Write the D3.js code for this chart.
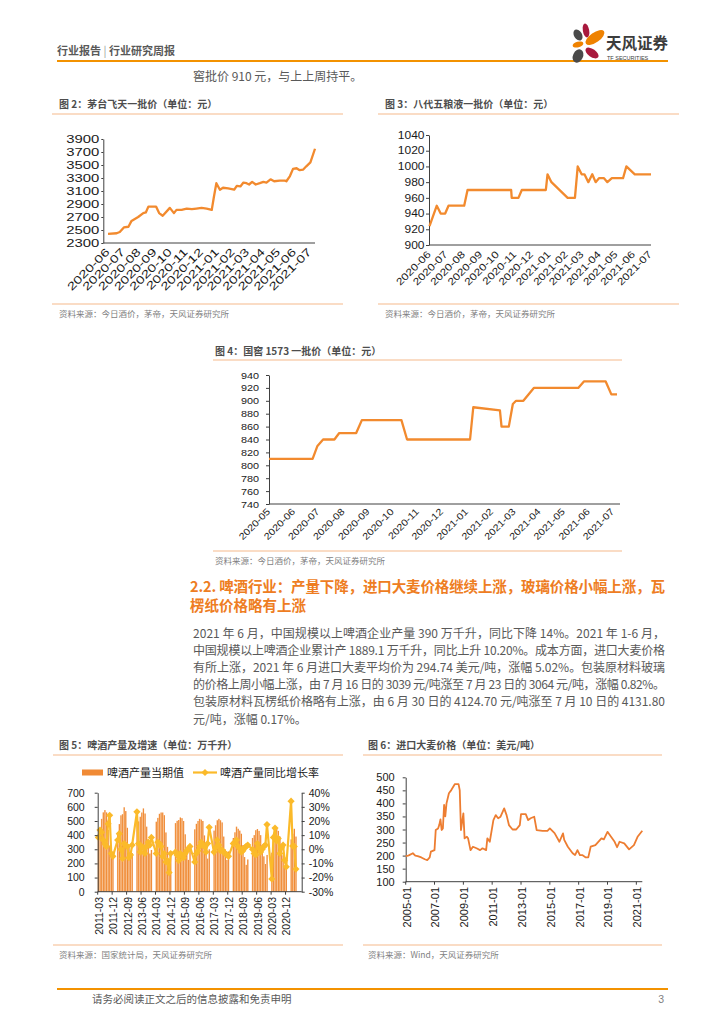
<!DOCTYPE html>
<html><head><meta charset="utf-8">
<script src="https://cdn.jsdelivr.net/npm/d3@7"></script>
<style>
body{margin:0;background:#fff;}
svg{display:block;}
</style></head><body>
<svg id="page" width="724" height="1024"></svg>
<script>
// ================= DATA =================
// Fig 2: Moutai Feitian wholesale price
const maotaiDates = ["2020-06-01","2020-06-18","2020-06-24","2020-07-02","2020-07-11","2020-07-17","2020-07-30","2020-08-09","2020-08-14","2020-08-19",
  "2020-09-03","2020-09-09","2020-09-16","2020-09-30","2020-10-08","2020-10-13","2020-10-23","2020-11-02","2020-11-12","2020-11-21",
  "2020-12-01","2020-12-11","2020-12-21","2020-12-25","2020-12-30","2021-01-06","2021-01-12","2021-01-22","2021-02-03","2021-02-08",
  "2021-02-15","2021-02-21","2021-02-27","2021-03-04","2021-03-10","2021-03-17","2021-03-25","2021-04-01","2021-04-07","2021-04-15",
  "2021-04-22","2021-05-03","2021-05-13","2021-05-16","2021-05-23","2021-05-29","2021-06-05","2021-06-11","2021-06-18","2021-06-24",
  "2021-07-02","2021-07-11"];
const maotaiPrices = [2440,2450,2470,2540,2550,2640,2700,2760,2770,2860,
  2860,2760,2720,2840,2760,2810,2810,2830,2820,2830,
  2840,2830,2810,3000,3220,3120,3150,3140,3120,3180,
  3170,3230,3220,3200,3240,3200,3220,3240,3230,3280,
  3250,3260,3260,3250,3330,3440,3450,3420,3430,3480,
  3540,3750];
const maotaiTicks = [2300,2500,2700,2900,3100,3300,3500,3700,3900];

// Fig 3: Wuliangye (8th gen) wholesale price
const wlyDates = ["2020-06-01","2020-06-14","2020-06-21","2020-06-29","2020-07-05","2020-08-02","2020-08-08","2020-10-25","2020-10-26","2020-11-07",
  "2020-11-13","2020-12-26","2020-12-29","2021-01-05","2021-02-03","2021-02-16","2021-02-21","2021-02-28","2021-03-05","2021-03-12",
  "2021-03-19","2021-03-25","2021-03-31","2021-04-09","2021-04-15","2021-04-23","2021-05-13","2021-05-19","2021-06-03","2021-07-02"];
const wlyPrices = [924,950,940,940,950,950,970,970,960,960,
  970,970,990,980,960,960,1000,990,990,980,
  990,980,985,985,980,985,985,1000,990,990];
const wlyTicks = [900,920,940,960,980,1000,1020,1040];

// Fig 4: Guojiao 1573 wholesale price
const gjDates = ["2020-05-01","2020-06-24","2020-06-30","2020-07-07","2020-07-21","2020-07-27","2020-08-17","2020-08-24","2020-10-12","2020-10-19",
  "2021-01-05","2021-01-09","2021-02-11","2021-02-13","2021-02-22","2021-02-27","2021-03-03","2021-03-12","2021-03-25","2021-05-19",
  "2021-05-26","2021-06-22","2021-06-29","2021-07-06"];
const gjPrices = [810,810,830,840,840,850,850,870,870,840,
  840,890,885,860,860,895,900,900,920,920,
  930,930,910,910];
const gjTicks = [740,760,780,800,820,840,860,880,900,920,940];

// Fig 5: beer output (万千升) and YoY (%), monthly 2011-03 .. 2021-06 (Jan/Feb not published)
const beerOutput = [
  392,431,515,561,577,561,438,326,268,264,
  null,null,417,478,540,548,597,570,452,321,262,272,
  null,null,510,497,530,560,589,553,460,337,270,295,
  null,null,495,522,551,560,560,541,419,317,225,286,
  null,null,485,501,507,525,520,500,406,314,225,292,
  null,null,441,480,500,515,510,500,398,308,234,300,
  null,null,432,470,505,515,505,490,390,299,225,285,
  null,null,380,420,460,445,432,410,330,245,190,228,
  null,null,380,400,435,443,430,400,330,250,196,260,
  null,null,276,400,440,450,430,390,330,258,181,228,
  null,null,370,410,445,390];
const beerYoY = [
  8.4,13.6,12,6.5,3.7,2,18,24,-3,-5,
  null,null,6.5,11,0,-6.5,4,3,2,-6,-4,3,
  null,null,26.5,4,-2,2,1,-3,2,5,3,8.4,
  null,null,-3,5,4,2,-5,-3,-9,-8,-16.5,-3,
  null,null,-2,-4,-8,-3,-5,-6,-3,-1,0,2,
  null,null,-9,-3,-1,2,5,3,2,-2,4,15.5,
  null,null,-2,1,6.5,3,-1,-0.5,-2,-3,-4,-5,
  null,null,4,5,6.5,2,0.5,-2,-1,1,2,3,
  null,null,0,-3,-4,4,1,-2,0,2,3,17.5,
  null,null,-21,8.4,15,6,7.7,-3,1,3,-7.7,-12.4,
  null,null,34,2.3,2,-14];
const beerOutTicks = [0,100,200,300,400,500,600,700];
const beerYoyTicks = [-30,-20,-10,0,10,20,30,40];

// Fig 6: imported barley price (USD/t)
const barleyMonths = ["2005-01","2005-03","2005-04","2005-07","2005-09","2005-11","2006-02","2006-05","2006-07","2006-09",
  "2006-10","2007-01","2007-02","2007-04","2007-05","2007-06","2007-07","2007-08","2007-09","2007-10",
  "2007-11","2008-01","2008-03","2008-06","2008-09","2008-10","2008-11","2009-01","2009-02","2009-04",
  "2009-05","2009-07","2009-09","2009-12","2010-03","2010-05","2010-08","2010-09","2010-11","2011-02",
  "2011-04","2011-06","2011-08","2011-11","2012-01","2012-03","2012-06","2012-09","2012-12","2013-01",
  "2013-05","2013-07","2013-09","2013-12","2014-02","2014-07","2014-11","2015-01","2015-05","2015-09",
  "2015-12","2016-01","2016-04","2016-08","2016-10","2016-12","2017-02","2017-04","2017-07","2017-09",
  "2017-11","2018-03","2018-08","2018-10","2019-01","2019-04","2019-07","2019-09","2019-11","2020-03",
  "2020-07","2020-11","2021-02","2021-06"];
const barleyPrices = [198,200,202,209,200,198,193,186,183,193,
  215,221,298,304,317,339,298,304,394,350,
  400,439,451,474,474,451,298,362,266,272,
  266,221,234,228,221,228,221,266,253,336,
  355,343,349,381,355,317,300,300,317,359,
  359,336,343,349,298,295,295,304,286,253,
  285,260,234,209,202,221,202,202,193,193,
  234,240,266,262,291,272,253,232,253,247,
  224,240,272,295];
const barleyTicks = [100,150,200,250,300,350,400,450,500];
const barleyLabels = ["2005-01","2007-01","2009-01","2011-01","2013-01","2015-01","2017-01","2019-01","2021-01"];

// ================= DRAWING =================
const svg = d3.select('#page');
const CJK = '"Noto Sans CJK SC","Noto Sans",sans-serif';
const LAT = '"Liberation Sans",Arial,sans-serif';
const parseD = d3.timeParse('%Y-%m-%d');
const parseM = d3.timeParse('%Y-%m');
const fmtM = d3.timeFormat('%Y-%m');
const AXIS = '#404040';

function stretch(sel, sx){
  if (sx === 1) return;
  sel.each(function(){
    const L = this.getComputedTextLength();
    d3.select(this).attr('textLength', (L*sx).toFixed(2)).attr('lengthAdjust','spacingAndGlyphs');
  });
}
function hline(x1,x2,y,color,w){
  svg.append('line').attr('x1',x1).attr('x2',x2).attr('y1',y).attr('y2',y)
    .attr('stroke',color).attr('stroke-width',w);
}
function txt(x,y,s,size,color,o={}){
  const t = svg.append('text').attr('x',x).attr('y',y).text(s)
    .style('font-family', o.font||CJK).style('font-size', size+'px').attr('fill',color);
  if (o.weight) t.style('font-weight', o.weight);
  if (o.anchor) t.attr('text-anchor', o.anchor);
  if (o.len) t.attr('textLength', o.len).attr('lengthAdjust','spacing');
  return t;
}
function figFrame(x1,x2,titleX,titleY,lineY,bottomY,title,source){
  txt(titleX,titleY,title,10,'#4d4d4d',{weight:'bold'});
  hline(x1,x2,lineY,'#F6B98C',1.2);
  hline(x1,x2,bottomY,'#F6B98C',1.2);
  txt(titleX,bottomY+13,source,8.5,'#7f7f7f');
}

// ---- Header ----
const hd = svg.append('text').attr('x',57).attr('y',55).style('font-family',CJK).style('font-size','11px').attr('fill','#595959');
hd.append('tspan').text('行业报告').style('font-weight','bold');
hd.append('tspan').text(' | ').attr('fill','#9a9a9a');
hd.append('tspan').text('行业研究周报').style('font-weight','bold');
hline(57,668,61,'#F39200',2);
// logo petals
const petals = [
  {cx:578,cy:35,rx:6,ry:4,a:60,c:'#4a4a4a'},
  {cx:586,cy:30.5,rx:7,ry:3.2,a:80,c:'#A8193D'},
  {cx:595,cy:37.5,rx:11,ry:5,a:-35,c:'#EF8200'},
  {cx:578,cy:44.5,rx:5.5,ry:2.8,a:-15,c:'#EF8200'},
  {cx:592,cy:53,rx:7.5,ry:4,a:35,c:'#A8193D'},
  {cx:578,cy:56,rx:7,ry:5,a:-65,c:'#4a4a4a'}
];
svg.append('g').selectAll('ellipse').data(petals).join('ellipse')
  .attr('cx',d=>d.cx).attr('cy',d=>d.cy).attr('rx',d=>d.rx).attr('ry',d=>d.ry)
  .attr('transform',d=>`rotate(${d.a},${d.cx},${d.cy})`).attr('fill',d=>d.c);
txt(606,49,'天风证券',15.5,'#3c3c3c',{weight:'bold'});
txt(607,59.5,'TF SECURITIES',5.5,'#3c3c3c',{font:LAT});

txt(193,81,'窖批价 910 元，与上上周持平。',12,'#595959');

// ---- Generic line chart (figs 2,3,4) ----
function lineChart(c){
  const g = svg.append('g');
  const x = d3.scaleTime().domain([parseD(c.xDom[0]), parseD(c.xDom[1])]).range(c.xRange);
  const y = d3.scaleLinear().domain(c.yDom).range(c.yRange);
  const ya = g.append('g').attr('transform',`translate(${c.axisX},0)`)
    .call(d3.axisLeft(y).tickValues(c.ticks).tickFormat(d3.format('d')).tickSize(c.tickSize).tickPadding(c.tickPad).tickSizeOuter(0));
  ya.select('.domain').attr('stroke',AXIS);
  ya.selectAll('.tick line').attr('stroke',AXIS);
  const yt = ya.selectAll('.tick text').style('font-family',LAT).style('font-size',c.fs+'px').attr('fill','#1a1a1a');
  stretch(yt, c.sx);
  g.append('line').attr('x1',c.axisX).attr('x2',c.axisRight).attr('y1',c.yRange[0]).attr('y2',c.yRange[0]).attr('stroke',AXIS);
  const months = d3.timeMonth.range(parseD(c.months[0]), d3.timeMonth.offset(parseD(c.months[1]),1));
  const xl = g.append('g').selectAll('text').data(months).join('text')
    .attr('transform',d=>`translate(${x(d)-0.5},${c.labelY}) rotate(-45)`)
    .attr('text-anchor','end').attr('dy','0.35em')
    .style('font-family',LAT).style('font-size',c.fs+'px').attr('fill','#1a1a1a')
    .text(d=>fmtM(d));
  stretch(xl, c.sx);
  const data = c.dates.map((d,i)=>({d:parseD(d), v:c.values[i]}));
  g.append('path').datum(data)
    .attr('d', d3.line().x(d=>x(d.d)).y(d=>y(d.v)))
    .attr('fill','none').attr('stroke','#F28A2E').attr('stroke-width',2.3).attr('stroke-linejoin','round');
}

// Fig 2
figFrame(52,343,59,108,114,304,'图 2：茅台飞天一批价（单位：元）','资料来源：今日酒价，茅帝，天风证券研究所');
lineChart({dates:maotaiDates, values:maotaiPrices, xDom:['2020-06-01','2021-07-11'], xRange:[108,315],
  yDom:[2300,3900], yRange:[243,139], ticks:maotaiTicks, axisX:103.3, axisRight:315,
  tickSize:2, tickPad:2, fs:11, sx:1.35, months:['2020-06-01','2021-07-01'], labelY:250});

// Fig 3
figFrame(378,679,385,108,114,304,'图 3：八代五粮液一批价（单位：元）','资料来源：今日酒价，茅帝，天风证券研究所');
lineChart({dates:wlyDates, values:wlyPrices, xDom:['2020-06-01','2021-07-02'], xRange:[429.5,651],
  yDom:[900,1040], yRange:[245,135], ticks:wlyTicks, axisX:429, axisRight:651,
  tickSize:3, tickPad:1.5, fs:10, sx:1.2, months:['2020-06-01','2021-07-01'], labelY:252.5});

// Fig 4
figFrame(213,622,215,355,360,551,'图 4：国窖 1573 一批价（单位：元）','资料来源：今日酒价，茅帝，天风证券研究所');
lineChart({dates:gjDates, values:gjPrices, xDom:['2020-05-01','2021-07-06'], xRange:[269,617],
  yDom:[740,940], yRange:[504,375], ticks:gjTicks, axisX:269, axisRight:620,
  tickSize:3, tickPad:7, fs:9.5, sx:1.14, months:['2020-05-01','2021-07-01'], labelY:510});

// ---- Section text ----
const hx = 190;
txt(hx,592,'2.2. 啤酒行业：产量下降，进口大麦价格继续上涨，玻璃价格小幅上涨，瓦',14.5,'#EE7D22',{weight:'bold',len:475});
txt(hx,611,'楞纸价格略有上涨',14.5,'#EE7D22',{weight:'bold'});
const body = [
  '2021 年 6 月，中国规模以上啤酒企业产量 390 万千升，同比下降 14%。2021 年 1-6 月，',
  '中国规模以上啤酒企业累计产 1889.1 万千升，同比上升 10.20%。成本方面，进口大麦价格',
  '有所上涨，2021 年 6 月进口大麦平均价为 294.74 美元/吨，涨幅 5.02%。包装原材料玻璃',
  '的价格上周小幅上涨，由 7 月 16 日的 3039 元/吨涨至 7 月 23 日的 3064 元/吨，涨幅 0.82%。',
  '包装原材料瓦楞纸价格略有上涨，由 6 月 30 日的 4124.70 元/吨涨至 7 月 10 日的 4131.80',
  '元/吨，涨幅 0.17%。'
];
body.forEach((s,i)=>{
  txt(193, 637.5 + i*17.2, s, 12, '#595959', i<body.length-1 ? {len:472} : {});
});

// ---- Fig 5 ----
figFrame(53,343,59,749,755,945,'图 5：啤酒产量及增速（单位：万千升）','资料来源：国家统计局，天风证券研究所');
(function(){
  const g = svg.append('g');
  const months = d3.timeMonth.range(new Date(2011,2,1), new Date(2021,6,1)).map(fmtM);
  const xb = d3.scaleBand().domain(months).range([97.7, 97.7 + months.length*1.604]).paddingInner(0.12);
  const yL = d3.scaleLinear().domain([0,700]).range([891.7,792.7]);
  const yR = d3.scaleLinear().domain([-30,40]).range([891.7,792.7]);
  const defs = svg.append('defs');
  const gr = defs.append('linearGradient').attr('id','barg').attr('x1','0').attr('x2','1').attr('y1','0').attr('y2','0');
  gr.append('stop').attr('offset','0').attr('stop-color','#F5A861');
  gr.append('stop').attr('offset','1').attr('stop-color','#EC7A1E');
  const bars = months.map((m,i)=>({m, v:beerOutput[i]})).filter(d=>d.v!=null);
  g.append('g').selectAll('rect').data(bars).join('rect')
    .attr('x',d=>xb(d.m)).attr('width',xb.bandwidth())
    .attr('y',d=>yL(d.v)).attr('height',d=>yL(0)-yL(d.v)).attr('fill','url(#barg)');
  const pts = months.map((m,i)=>({m, v:beerYoY[i]})).filter(d=>d.v!=null);
  const cx = d=>xb(d.m)+xb.bandwidth()/2;
  g.append('path').datum(pts).attr('d', d3.line().x(cx).y(d=>yR(d.v)))
    .attr('fill','none').attr('stroke','#FBBA2A').attr('stroke-width',2.2);
  const sym = d3.symbol().type(d3.symbolSquare).size(26);
  g.append('g').selectAll('path').data(pts).join('path')
    .attr('d',sym).attr('transform',d=>`translate(${cx(d)},${yR(d.v)}) rotate(45)`).attr('fill','#FBBA2A');
  // axes
  const la = g.append('g').attr('transform','translate(97.7,0)')
    .call(d3.axisLeft(yL).tickValues(beerOutTicks).tickSize(3).tickPadding(10).tickSizeOuter(0));
  const ra = g.append('g').attr('transform','translate(301.7,0)')
    .call(d3.axisRight(yR).tickValues(beerYoyTicks).tickFormat(d=>d+'%').tickSize(3).tickPadding(4).tickSizeOuter(0));
  [la,ra].forEach(a=>{
    a.select('.domain').attr('stroke',AXIS);
    a.selectAll('.tick line').attr('stroke',AXIS);
    a.selectAll('.tick text').style('font-family',LAT).style('font-size','10.5px').attr('fill','#1a1a1a');
  });
  g.append('line').attr('x1',97.7).attr('x2',301.7).attr('y1',891.7).attr('y2',891.7).attr('stroke',AXIS);
  const lab = months.filter((m,i)=>i%9===0);
  g.append('g').selectAll('line').data(lab).join('line')
    .attr('x1',d=>xb(d)).attr('x2',d=>xb(d)).attr('y1',891.7).attr('y2',894.7).attr('stroke',AXIS);
  g.append('g').selectAll('text').data(lab).join('text')
    .attr('transform',d=>`translate(${cx({m:d})},897) rotate(-90)`)
    .attr('text-anchor','end').attr('dy','0.4em')
    .style('font-family',LAT).style('font-size','10.5px').attr('fill','#1a1a1a').text(d=>d);
  // legend
  g.append('rect').attr('x',82).attr('y',769.5).attr('width',21).attr('height',6).attr('fill','#F08A35');
  txt(107,776.5,'啤酒产量当期值',11,'#1a1a1a');
  g.append('line').attr('x1',193).attr('x2',217).attr('y1',772.5).attr('y2',772.5).attr('stroke','#FBBA2A').attr('stroke-width',2.2);
  g.append('path').attr('d',sym).attr('transform','translate(205,772.5) rotate(45)').attr('fill','#FBBA2A');
  txt(220,776.5,'啤酒产量同比增长率',11,'#1a1a1a');
})();

// ---- Fig 6 ----
figFrame(363,662,368,749,755,945,'图 6：进口大麦价格（单位：美元/吨）','资料来源：Wind，天风证券研究所');
(function(){
  const g = svg.append('g');
  const x = d3.scaleTime().domain([parseM('2005-01'), parseM('2021-06')]).range([405.7,642.3]);
  const y = d3.scaleLinear().domain([100,500]).range([881.7,777.3]);
  const ya = g.append('g').attr('transform','translate(405.7,0)')
    .call(d3.axisLeft(y).tickValues(barleyTicks).tickSize(3).tickPadding(8).tickSizeOuter(0));
  ya.select('.domain').attr('stroke',AXIS);
  ya.selectAll('.tick line').attr('stroke',AXIS);
  ya.selectAll('.tick text').style('font-family',LAT).style('font-size','11px').attr('fill','#1a1a1a');
  g.append('line').attr('x1',405.7).attr('x2',642.3).attr('y1',881.7).attr('y2',881.7).attr('stroke',AXIS);
  const yrs = barleyLabels.map(parseM);
  g.append('g').selectAll('line').data(yrs).join('line')
    .attr('x1',d=>x(d)).attr('x2',d=>x(d)).attr('y1',881.7).attr('y2',884.7).attr('stroke',AXIS);
  g.append('g').selectAll('text').data(yrs).join('text')
    .attr('transform',d=>`translate(${x(d)+1},887) rotate(-90)`)
    .attr('text-anchor','end').attr('dy','0.35em')
    .style('font-family',LAT).style('font-size','11px').attr('fill','#1a1a1a').text(d=>fmtM(d));
  const data = barleyMonths.map((m,i)=>({d:parseM(m), v:barleyPrices[i]}));
  g.append('path').datum(data).attr('d', d3.line().x(d=>x(d.d)).y(d=>y(d.v)))
    .attr('fill','none').attr('stroke','#ED7D31').attr('stroke-width',1.8).attr('stroke-linejoin','round');
})();

// ---- Footer ----
hline(57,668,989,'#F39200',2);
txt(92,1003,'请务必阅读正文之后的信息披露和免责申明',10.5,'#595959');
txt(664,1003,'3',10.5,'#7f7f7f',{anchor:'end',font:LAT});
</script>
</body></html>
